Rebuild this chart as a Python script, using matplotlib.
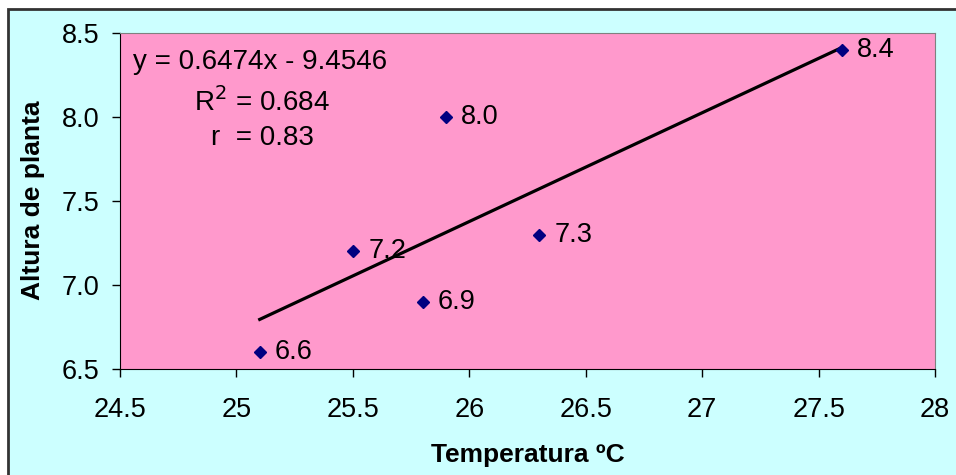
import matplotlib.pyplot as plt
import numpy as np
from matplotlib.patches import Rectangle

# temperatura vs altura de planta
temp = [25.1, 25.5, 25.8, 25.9, 26.3, 27.6]
altura = [6.6, 7.2, 6.9, 8.0, 7.3, 8.4]
pendiente = 0.6474
intercepto = -9.4546
r2 = 0.684
r = 0.83

plt.rcParams['font.family'] = ['Liberation Sans', 'DejaVu Sans']

fig = plt.figure(figsize=(9.56, 4.75), dpi=100, facecolor='white')
fig.patches.append(Rectangle((8/956, -0.05), 1.1, 1 - 9/475 + 0.05,
                             transform=fig.transFigure, facecolor='#CCFFFF',
                             edgecolor='#333333', lw=2, zorder=-1))

ax = fig.add_axes([120/956, 1 - 369/475, 815/956, 336/475])
ax.set_facecolor('#FF99CC')

# recta de regresion
xl = np.array([min(temp), max(temp)])
ax.plot(xl, pendiente*xl + intercepto, color='black', lw=2.3, zorder=2)
ax.plot(temp, altura, 'D', color='#000080', ms=6, zorder=3)
for x, y in zip(temp, altura):
    ax.annotate('%.1f' % y, (x, y), xytext=(11, 0), textcoords='offset points',
                va='center', ha='left', fontsize=19.5)

ax.set_xlim(24.5, 28)
ax.set_ylim(6.5, 8.5)
ax.set_xticks(np.arange(24.5, 28.01, 0.5))
ax.set_xticklabels(['24.5', '25', '25.5', '26', '26.5', '27', '27.5', '28'])
ax.set_yticks(np.arange(6.5, 8.51, 0.5))
ax.set_yticklabels(['6.5', '7.0', '7.5', '8.0', '8.5'])
ax.tick_params(labelsize=19.5, direction='out', length=6, width=1)
ax.tick_params(axis='x', pad=14)
ax.tick_params(axis='y', pad=9)
for s in ['top', 'right']:
    ax.spines[s].set_color('#808080')
for s in ['left', 'bottom']:
    ax.spines[s].set_color('black')

ax.set_xlabel('Temperatura ºC', fontsize=19, fontweight='bold', va='center')
ax.set_ylabel('Altura de planta', fontsize=19, fontweight='bold', va='center')
ax.xaxis.set_label_coords(0.5, (369 - 455) / 336)
ax.yaxis.set_label_coords((33 - 120) / 815, (369 - 200) / 336)

fig.text(133/956, 1 - 62/475, 'y = %.4fx - %.4f' % (pendiente, -intercepto),
         fontsize=20, va='center', ha='left')
fig.text(262/956, 1 - 102/475, r'R$^2$ = %.3f' % r2, fontsize=20, va='center', ha='center')
fig.text(262/956, 1 - 138/475, 'r  = %.2f' % r, fontsize=20, va='center', ha='center')

fig.savefig('out.png', dpi=100)
